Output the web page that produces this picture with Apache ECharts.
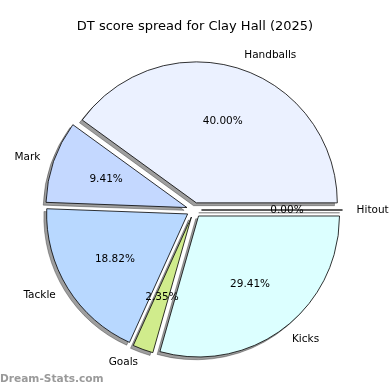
<!DOCTYPE html>
<html>
<head>
<meta charset="utf-8">
<script src="https://cdn.jsdelivr.net/npm/echarts@6/dist/echarts.min.js"></script>
<style>html,body{margin:0;padding:0;background:#fff}#c{width:390px;height:390px}</style>
</head>
<body>
<div id="c"></div>
<script>
const categories = ['Handballs', 'Mark', 'Tackle', 'Goals', 'Kicks', 'Hitout'];
const values = [34, 8, 16, 2, 25, 0];
const colors = ['#EBF1FF', '#C4D8FF', '#B8D8FF', '#D0EC8C', '#DCFFFF', '#E6E6FA'];
const titleText = 'DT score spread for Clay Hall (2025)';

const total = values.reduce((a, b) => a + b, 0);
const R = 141;
const center = [194, 210];
const shadowCenter = [191.2, 212.8];
const offset = 7.5;
const font = 'DejaVu Sans';

const chart = echarts.init(document.getElementById('c'), null, {renderer: 'canvas'});

const mainData = categories.map((c, i) => ({
  name: c, value: values[i], selected: true,
  itemStyle: {color: colors[i]}
}));
const plainData = categories.map((c, i) => ({
  name: c, value: values[i], selected: true
}));

const common = {
  type: 'pie',
  startAngle: 0,
  clockwise: false,
  minAngle: 0,
  avoidLabelOverlap: false,
  selectedMode: 'multiple',
  selectedOffset: offset,
  silent: true,
  labelLayout: {hideOverlap: false},
  emphasis: {disabled: true}
};

chart.setOption({
  animation: false,
  title: {
    text: titleText, left: 'center', top: 15,
    textStyle: {fontFamily: font, fontSize: 13, fontWeight: 'normal', color: '#000'}
  },
  graphic: [{
    type: 'text', left: 0, top: 374,
    style: {text: 'Dream-Stats.com', fontFamily: font, fontSize: 10.6, fontWeight: 'bold', fill: '#9a9a9a'}
  }],
  series: [Object.assign({}, common, {
    z: 1,
    radius: [0, R],
    center: shadowCenter,
    data: plainData,
    itemStyle: {color: 'rgba(0,0,0,0.38)', borderColor: 'rgba(0,0,0,0.38)', borderWidth: 0.8},
    select: {itemStyle: {color: 'rgba(0,0,0,0.38)', borderColor: 'rgba(0,0,0,0.38)', borderWidth: 0.8}},
    label: {show: false},
    labelLine: {show: false}
  }), Object.assign({}, common, {
    z: 2,
    radius: [0, R],
    center: center,
    data: mainData,
    itemStyle: {borderColor: '#000', borderWidth: 0.8},
    select: {itemStyle: {borderColor: '#000', borderWidth: 0.8}},
    label: {
      show: true, position: 'outside', distanceToLabelLine: 0,
      fontFamily: font, fontSize: 10.5, color: '#000',
      formatter: '{b}'
    },
    labelLine: {show: false, length: R * 0.1, length2: 0}
  }), Object.assign({}, common, {
    z: 3,
    radius: [0, R * 1.17],
    center: center,
    data: plainData,
    itemStyle: {color: 'rgba(0,0,0,0)', borderWidth: 0},
    select: {itemStyle: {color: 'rgba(0,0,0,0)', borderWidth: 0}},
    label: {
      show: true, position: 'inside',
      fontFamily: font, fontSize: 10.5, color: '#000',
      formatter: p => (p.value / total * 100).toFixed(2) + '%'
    },
    labelLine: {show: false}
  })]
});
</script>
</body>
</html>
